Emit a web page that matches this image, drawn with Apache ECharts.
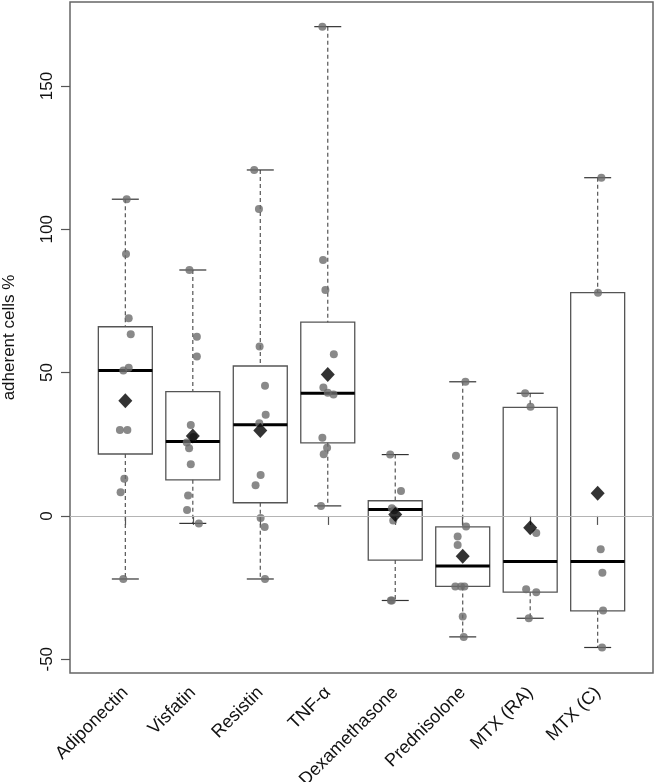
<!DOCTYPE html>
<html>
<head>
<meta charset="utf-8">
<script src="https://cdn.jsdelivr.net/npm/echarts@6/dist/echarts.min.js"></script>
<style>
  html, body { margin: 0; padding: 0; background: #fff; }
  #chart { width: 656px; height: 782px; }
</style>
</head>
<body>
<div id="chart"></div>
<script>
// ---------- data ----------
const categories = ['Adiponectin', 'Visfatin', 'Resistin', 'TNF-\u03b1', 'Dexamethasone', 'Prednisolone', 'MTX (RA)', 'MTX (C)'];
const whiskerLow  = [-22.0, -2.6, -22.0,   3.5, -29.5, -42.2, -35.7, -45.9];
const quartile1   = [ 21.6, 12.6,   4.6,  25.5, -15.4, -24.6, -26.6, -33.1];
const medians     = [ 50.7, 26.0,  31.8,  42.8,   2.2, -17.5, -15.9, -15.9];
const quartile3   = [ 66.0, 43.4,  52.3,  67.6,   5.3,  -3.8,  37.9,  77.9];
const whiskerHigh = [110.5, 85.8, 120.7, 170.7,  21.4,  46.8,  42.8, 118.0];
const means       = [ 40.2, 27.9,  29.8,  49.3,   0.5, -14.1,  -4.1,   7.9];

// individual observations per group and their horizontal jitter (in category units)
const pointValues = [
  [110.5, 91.4, 69.0, 63.4, 51.7, 50.7, 30.0, 30.0, 13.0, 8.3, -22.0],
  [85.8, 62.5, 55.6, 31.7, 27.5, 25.6, 23.6, 18.0, 7.1, 2.1, -2.6],
  [120.7, 107.1, 59.1, 45.4, 35.3, 32.3, 14.3, 10.7, -0.7, -3.9, -22.0],
  [170.7, 89.3, 78.8, 56.4, 44.8, 43.0, 42.4, 27.3, 23.8, 21.5, 3.5],
  [21.4, 8.7, 2.7, 2.0, -1.6, -29.5, -29.5],
  [46.8, 21.0, -3.7, -7.2, -10.1, -24.6, -24.6, -24.6, -35.1, -42.2],
  [42.8, 38.1, -6.0, -25.6, -26.6, -35.7],
  [118.0, 77.9, -11.6, -19.8, -33.0, -45.9]
];
const pointJitter = [
  [0.02, 0.01, 0.05, 0.08, 0.05, -0.03, -0.08, 0.03, -0.015, -0.07, -0.03],
  [-0.05, 0.06, 0.06, -0.03, 0.01, -0.09, -0.055, -0.03, -0.07, -0.085, 0.09],
  [-0.09, -0.02, -0.01, 0.07, 0.08, -0.015, 0.005, -0.07, 0.005, 0.065, 0.07],
  [-0.08, -0.07, -0.035, 0.09, -0.065, 0.0, 0.085, -0.08, -0.01, -0.06, -0.1],
  [-0.075, 0.085, -0.05, -0.015, -0.03, -0.065, -0.05],
  [0.04, -0.1, 0.05, -0.075, -0.075, -0.11, -0.025, 0.025, 0.0, 0.015],
  [-0.075, 0.005, 0.09, -0.06, 0.09, -0.02],
  [0.055, 0.005, 0.045, 0.07, 0.08, 0.065]
];
const yTicks = [-50, 0, 50, 100, 150];
const yTitle = 'adherent cells %';

// ---------- build series data ----------
const positions = categories.map((c, i) => i + 1);
const boxData = positions.map((p, i) => [p, whiskerLow[i], quartile1[i], medians[i], quartile3[i], whiskerHigh[i]]);
const scatterData = [];
pointValues.forEach((vals, i) => {
  vals.forEach((v, j) => scatterData.push([positions[i] + pointJitter[i][j], v]));
});
const meanData = positions.map((p, i) => [p, means[i]]);

const FONT = 'Liberation Sans, Arial, Helvetica, sans-serif';
const GREY = '#555555';

function renderBox(params, api) {
  const x = api.value(0);
  const lo = api.value(1), q1 = api.value(2), md = api.value(3), q3 = api.value(4), hi = api.value(5);
  const halfBox = 0.4, halfStaple = 0.2;
  const pLT = api.coord([x - halfBox, q3]);
  const pRB = api.coord([x + halfBox, q1]);
  const pMedL = api.coord([x - halfBox, md]);
  const pMedR = api.coord([x + halfBox, md]);
  const pHi = api.coord([x, hi]);
  const pLo = api.coord([x, lo]);
  const pQ3 = api.coord([x, q3]);
  const pQ1 = api.coord([x, q1]);
  const sHiL = api.coord([x - halfStaple, hi]);
  const sHiR = api.coord([x + halfStaple, hi]);
  const sLoL = api.coord([x - halfStaple, lo]);
  const sLoR = api.coord([x + halfStaple, lo]);
  const dashed = { stroke: GREY, lineWidth: 1.2, lineDash: [4, 3] };
  const solid = { stroke: '#333', lineWidth: 1.2 };
  return {
    type: 'group',
    children: [
      { type: 'line', shape: { x1: pHi[0], y1: pHi[1], x2: pQ3[0], y2: pQ3[1] }, style: dashed },
      { type: 'line', shape: { x1: pQ1[0], y1: pQ1[1], x2: pLo[0], y2: pLo[1] }, style: dashed },
      { type: 'line', shape: { x1: sHiL[0], y1: sHiL[1], x2: sHiR[0], y2: sHiR[1] }, style: solid },
      { type: 'line', shape: { x1: sLoL[0], y1: sLoL[1], x2: sLoR[0], y2: sLoR[1] }, style: solid },
      { type: 'rect', shape: { x: pLT[0], y: pLT[1], width: pRB[0] - pLT[0], height: pRB[1] - pLT[1] },
        style: { fill: 'rgba(255,255,255,0)', stroke: GREY, lineWidth: 1.3 } },
      { type: 'line', shape: { x1: pMedL[0], y1: pMedL[1], x2: pMedR[0], y2: pMedR[1] },
        style: { stroke: '#000', lineWidth: 3 } }
    ]
  };
}

const chart = echarts.init(document.getElementById('chart'), null, { renderer: 'canvas' });
chart.setOption({
  animation: false,
  backgroundColor: '#fff',
  textStyle: { fontFamily: FONT },
  grid: {
    left: 70, top: 2, width: 583, height: 671,
    containLabel: false, outerBoundsMode: 'none',
    show: true, borderColor: '#666', borderWidth: 1.5, backgroundColor: 'transparent'
  },
  xAxis: {
    type: 'value', min: 0.18, max: 8.82,
    splitLine: { show: false },
    axisLine: { show: false },
    axisTick: { show: true, customValues: positions, length: 9, lineStyle: { color: GREY, width: 1.2 } },
    axisLabel: {
      customValues: positions, rotate: 45, margin: 17,
      fontSize: 18, color: '#111', fontFamily: FONT,
      formatter: v => categories[Math.round(v) - 1] || ''
    }
  },
  yAxis: {
    type: 'value', min: -54.8, max: 179.3,
    name: yTitle, nameLocation: 'middle', nameGap: 52, nameRotate: 90,
    nameTextStyle: { fontSize: 17, color: '#111', fontFamily: FONT },
    splitLine: { show: false },
    axisLine: { show: false },
    axisTick: { show: true, customValues: yTicks, length: 9, lineStyle: { color: GREY, width: 1.2 } },
    axisLabel: {
      customValues: yTicks, rotate: 90, margin: 14,
      fontSize: 17, color: '#111', fontFamily: FONT
    }
  },
  series: [
    {
      type: 'custom', name: 'box', renderItem: renderBox, data: boxData,
      encode: { x: 0, y: [1, 2, 3, 4, 5] }, z: 2, silent: true
    },
    {
      type: 'line', name: 'zero', data: [], z: 3, silent: true,
      markLine: {
        silent: true, symbol: 'none', label: { show: false },
        lineStyle: { color: '#b4b4b4', width: 1.2, type: 'solid' },
        data: [{ yAxis: 0 }]
      }
    },
    {
      type: 'scatter', name: 'points', data: scatterData, clip: false,
      symbol: 'circle', symbolSize: 8, z: 4, silent: true,
      itemStyle: { color: '#6b6b6b' }
    },
    {
      type: 'scatter', name: 'mean', data: meanData, clip: false,
      symbol: 'diamond', symbolSize: [14, 15], z: 5, silent: true,
      itemStyle: { color: '#000' }
    }
  ]
});
</script>
</body>
</html>
